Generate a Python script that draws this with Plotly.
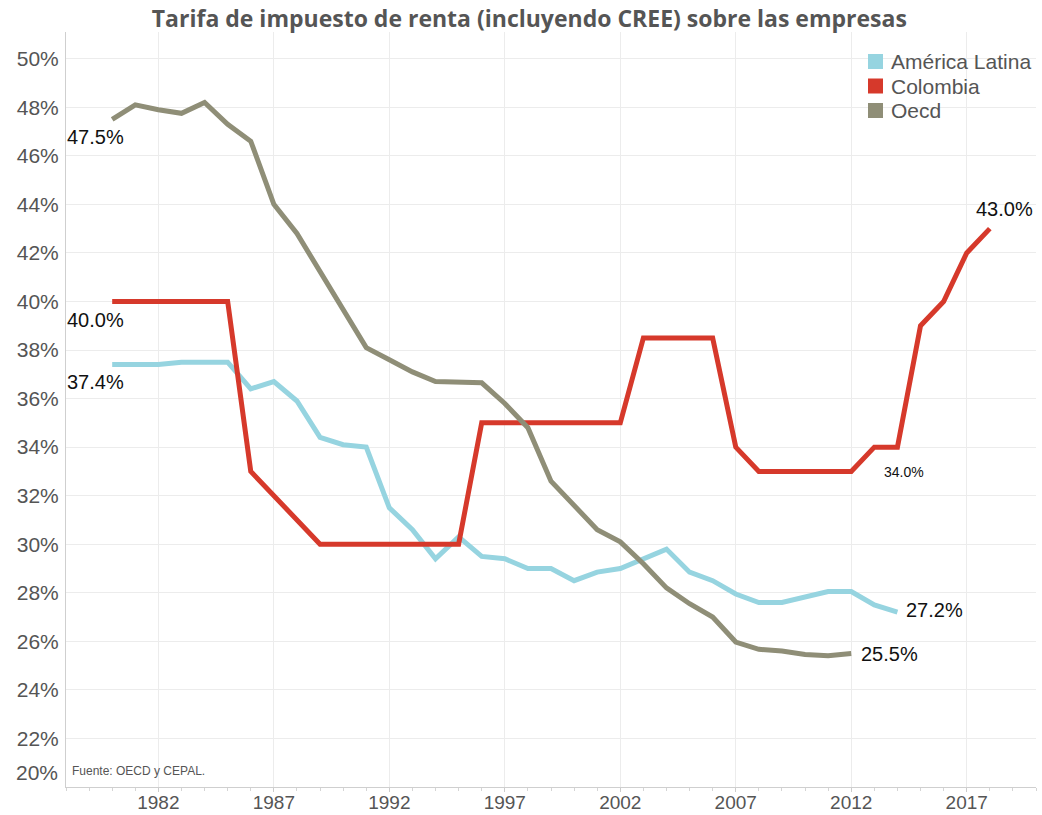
import plotly.graph_objects as go

years_al = list(range(1980, 2015))
america_latina = [37.4, 37.4, 37.4, 37.5, 37.5, 37.5, 36.4, 36.7, 35.9, 34.4,
                  34.1, 34.0, 31.5, 30.6, 29.4, 30.3, 29.5, 29.4, 29.0, 29.0,
                  28.5, 28.85, 29.0, 29.4, 29.8, 28.85, 28.5, 27.95, 27.6, 27.6,
                  27.85, 28.05, 28.05, 27.5, 27.2]

years_col = list(range(1980, 2019))
colombia = [40, 40, 40, 40, 40, 40, 33, 32, 31, 30,
            30, 30, 30, 30, 30, 30, 35, 35, 35, 35,
            35, 35, 35, 38.5, 38.5, 38.5, 38.5, 34, 33, 33,
            33, 33, 33, 34, 34, 39, 40, 42, 43]

years_oecd = list(range(1980, 2013))
oecd = [47.5, 48.1, 47.9, 47.75, 48.2, 47.3, 46.6, 44.0, 42.8, 41.2,
        39.6, 38.1, 37.6, 37.1, 36.7, 36.7, 36.65, 35.8, 34.8, 32.6,
        31.6, 30.6, 30.1, 29.2, 28.2, 27.55, 27.0, 25.97, 25.67, 25.6,
        25.46, 25.41, 25.5]

series_names = ["América Latina", "Colombia", "Oecd"]
series_colors = ["#96D4E0", "#D6392B", "#8F8E77"]

x_tickvals = [1982, 1987, 1992, 1997, 2002, 2007, 2012, 2017]
y_tickvals = list(range(22, 51, 2))
y_ticktext = [f"{v}%" for v in y_tickvals]

W, H = 1042, 815
ML, MR, MT, MB = 66, 6, 32, 28
PW, PH = W - ML - MR, H - MT - MB


def px_x(p):
    return (p - ML) / PW


def px_y(p):
    return (H - MB - p) / PH


fig = go.Figure()
data = [(years_al, america_latina), (years_col, colombia), (years_oecd, oecd)]
for (xs, ys), name, color in zip(data, series_names, series_colors):
    fig.add_trace(go.Scatter(x=xs, y=ys, mode="lines", name=name,
                             line=dict(color=color, width=5), showlegend=False,
                             hoverinfo="skip"))

# legend (squares + text)
leg_rows = [61.5, 86, 110.5]
for name, color, cy in zip(series_names, series_colors, leg_rows):
    fig.add_shape(type="rect", xref="paper", yref="paper",
                  x0=px_x(868), x1=px_x(883), y0=px_y(cy + 7.5), y1=px_y(cy - 7.5),
                  fillcolor=color, line=dict(width=0))
    fig.add_annotation(x=px_x(889), y=px_y(cy), xref="paper", yref="paper", text=name,
                       showarrow=False, xanchor="left", yanchor="middle",
                       font=dict(family="Liberation Sans, Arial", size=21, color="#555555"))

label_font = dict(family="Liberation Sans, Arial", size=20, color="#111111")
annots = [
    dict(x=years_oecd[0], y=oecd[0], text=f"{oecd[0]:.1f}%", xanchor="left", yanchor="middle", xshift=-47, yshift=-18),
    dict(x=years_col[0], y=colombia[0], text=f"{colombia[0]:.1f}%", xanchor="left", yanchor="middle", xshift=-47, yshift=-19),
    dict(x=years_al[0], y=america_latina[0], text=f"{america_latina[0]:.1f}%", xanchor="left", yanchor="middle", xshift=-47, yshift=-17),
    dict(x=years_col[-1], y=colombia[-1], text=f"{colombia[-1]:.1f}%", xanchor="center", yanchor="middle", xshift=15, yshift=20),
    dict(x=years_al[-1], y=america_latina[-1], text=f"{america_latina[-1]:.1f}%", xanchor="left", yanchor="middle", xshift=7, yshift=2),
    dict(x=years_oecd[-1], y=oecd[-1], text=f"{oecd[-1]:.1f}%", xanchor="left", yanchor="middle", xshift=8, yshift=-1),
]
for a in annots:
    fig.add_annotation(showarrow=False, font=label_font, **a)

fig.add_annotation(x=years_col[-5], y=colombia[-5], text=f"{colombia[-5]:.1f}%", showarrow=False,
                   xanchor="left", yanchor="middle", xshift=-15, yshift=-25,
                   font=dict(family="Liberation Sans, Arial", size=14, color="#111111"))

fig.add_annotation(x=0, y=20, xref="paper", yref="y", text="20%", showarrow=False,
                   xanchor="right", yanchor="middle", xshift=-6, yshift=15,
                   font=dict(family="Liberation Sans, Arial", size=21, color="#555555"))

fig.add_annotation(x=0, y=0, xref="paper", yref="paper", text="Fuente: OECD y CEPAL.",
                   showarrow=False, xanchor="left", yanchor="middle", xshift=4, yshift=16,
                   font=dict(family="Liberation Sans, Arial", size=12, color="#555555"))

fig.update_layout(
    width=W, height=H,
    margin=dict(l=ML, r=MR, t=MT, b=MB, autoexpand=False),
    paper_bgcolor="white", plot_bgcolor="white",
    title=dict(text="<b>Tarifa de impuesto de renta (incluyendo CREE) sobre las empresas</b>",
               x=0.508, xanchor="center", y=0.977, yanchor="middle",
               font=dict(family="Open Sans, Liberation Sans", size=23, color="#555555")),
    showlegend=False,
)
fig.update_xaxes(range=[1978, 2020], tickvals=x_tickvals, ticks="outside", ticklen=4,
                 tickcolor="#cccccc", showgrid=True, gridcolor="#ececec", gridwidth=1,
                 showline=True, linecolor="#cfcfcf", linewidth=1, zeroline=False,
                 automargin=False, ticklabelstandoff=-6,
                 tickfont=dict(family="Liberation Sans Narrow, Liberation Sans, Arial", size=19, color="#555555"),
                 minor=dict(dtick=1, tick0=1980, ticks="outside", ticklen=3, tickcolor="#d5d5d5", showgrid=False))
fig.update_yaxes(range=[20, 51.1], tickvals=y_tickvals, ticktext=y_ticktext, ticks="",
                 showgrid=True, gridcolor="#ececec", gridwidth=1, ticklabelstandoff=2,
                 showline=True, linecolor="#cfcfcf", linewidth=1, zeroline=False,
                 automargin=False,
                 tickfont=dict(family="Liberation Sans, Arial", size=21, color="#555555"))

fig.write_html("out.html", config={"displayModeBar": False},
               post_script="document.body.style.margin='0';")
